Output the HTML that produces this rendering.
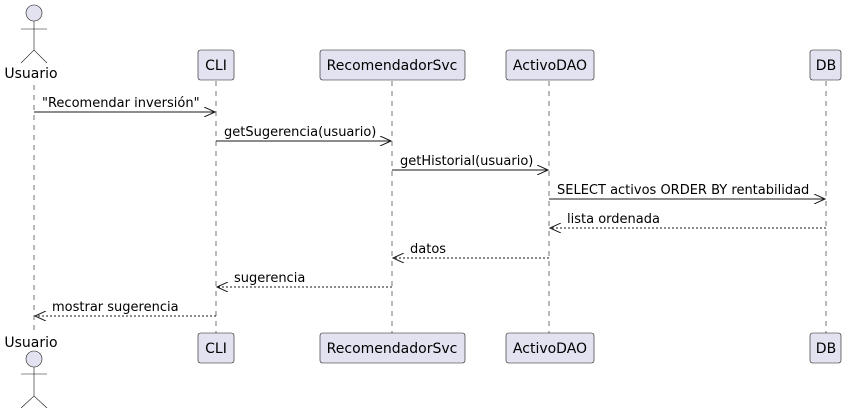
<!DOCTYPE html>
<html><head><meta charset="utf-8"><style>body{margin:0;background:#fff}svg{display:block}text{font-family:"DejaVu Sans","Liberation Sans",sans-serif}</style></head><body>
<svg width="850" height="414" xmlns="http://www.w3.org/2000/svg">
<defs>
<marker id="a" markerWidth="12" markerHeight="10" refX="11" refY="5" orient="auto" markerUnits="userSpaceOnUse"><path d="M0,0 L11,5 L0,10" fill="none" stroke="#181818"/></marker>
</defs>
<g stroke="#181818" stroke-dasharray="5,5" stroke-width="0.6">
<line x1="34" y1="85" x2="34" y2="330"/><line x1="216" y1="81" x2="216" y2="333"/><line x1="392" y1="81" x2="392" y2="333"/><line x1="549" y1="81" x2="549" y2="333"/><line x1="826" y1="81" x2="826" y2="333"/>
</g>
<g fill="#E2E2F0" stroke="#181818" stroke-width="0.6">
<circle cx="34" cy="13" r="8"/><circle cx="34" cy="359" r="8"/>
<rect x="198" y="50" width="36" height="30" rx="2.5"/><rect x="320" y="50" width="145" height="30" rx="2.5"/><rect x="506" y="50" width="88" height="30" rx="2.5"/><rect x="810" y="50" width="31" height="30" rx="2.5"/>
<rect x="198" y="333" width="36" height="30" rx="2.5"/><rect x="320" y="333" width="145" height="30" rx="2.5"/><rect x="506" y="333" width="88" height="30" rx="2.5"/><rect x="810" y="333" width="31" height="30" rx="2.5"/>
</g>
<g stroke="#181818" stroke-width="0.6" fill="none">
<path d="M34,21V50M21,29H47M21,63L34,50L47,63"/>
<path d="M34,367V396M21,374H47M21,408L34,396L47,408"/>
</g>
<g font-size="14" fill="#000" text-anchor="middle">
<text x="31" y="78">Usuario</text><text x="31" y="347">Usuario</text>
<text x="216" y="70">CLI</text><text x="392" y="70">RecomendadorSvc</text><text x="550" y="70">ActivoDAO</text><text x="826" y="70">DB</text>
<text x="216" y="353">CLI</text><text x="392" y="353">RecomendadorSvc</text><text x="550" y="353">ActivoDAO</text><text x="826" y="353">DB</text>
</g>
<g stroke="#181818" stroke-width="1" marker-end="url(#a)">
<line x1="34" y1="112" x2="215" y2="112"/>
<line x1="216" y1="141" x2="391" y2="141"/>
<line x1="392" y1="170" x2="548" y2="170"/>
<line x1="549" y1="199" x2="825" y2="199"/>
<line x1="826" y1="228" x2="550" y2="228" stroke-dasharray="2,2"/>
<line x1="549" y1="258" x2="393" y2="258" stroke-dasharray="2,2"/>
<line x1="392" y1="287" x2="217" y2="287" stroke-dasharray="2,2"/>
<line x1="216" y1="316" x2="35" y2="316" stroke-dasharray="2,2"/>
</g>
<g font-size="13" fill="#000">
<text x="42" y="107">"Recomendar inversión"</text>
<text x="224" y="136">getSugerencia(usuario)</text>
<text x="400" y="165">getHistorial(usuario)</text>
<text x="557" y="194">SELECT activos ORDER BY rentabilidad</text>
<text x="567" y="223">lista ordenada</text>
<text x="410" y="253">datos</text>
<text x="234" y="282">sugerencia</text>
<text x="52" y="311">mostrar sugerencia</text>
</g>
</svg>
</body></html>
